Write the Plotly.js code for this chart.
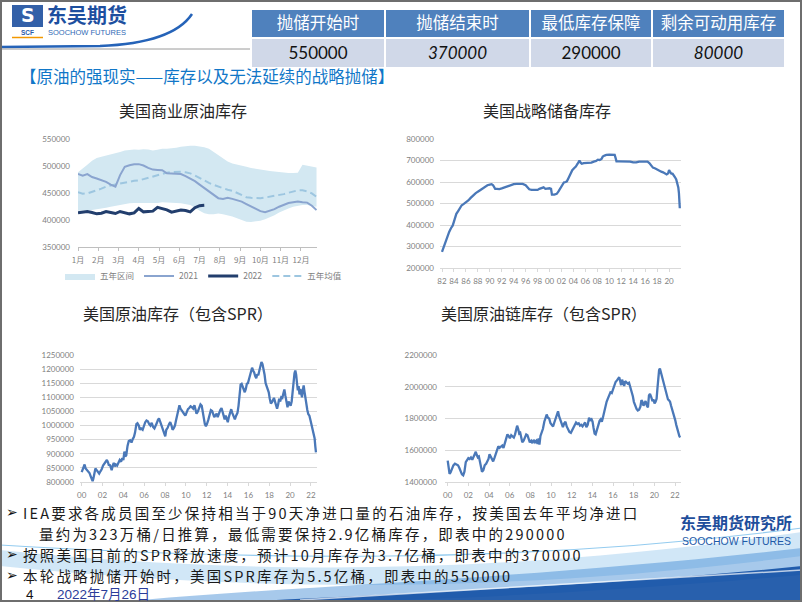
<!DOCTYPE html>
<html><head><meta charset="utf-8">
<script src="https://cdn.plot.ly/plotly-3.0.1.min.js"></script>
<style>html,body{margin:0;padding:0;background:#fff;}#chart{width:802px;height:602px;}</style>
</head><body><div id="chart"></div>
<script>
// ---------------- DATA ----------------
const tableHeaders = ['抛储开始时', '抛储结束时', '最低库存保障', '剩余可动用库存'];
const tableValues = [550000, 370000, 290000, 80000];

const monthLabels = ['1月','2月','3月','4月','5月','6月','7月','8月','9月','10月','11月','12月'];
const weeks = [1,2,3,4,5,6,7,8,9,10,11,12,13,14,15,16,17,18,19,20,21,22,23,24,25,26,27,28,29,30,31,32,33,34,35,36,37,38,39,40,41,42,43,44,45,46,47,48,49,50,51,52];
const band5yLow = [417000,416400,417000,418300,419500,421400,422700,424600,426500,428400,429600,430900,431500,431500,431500,430900,430900,431500,432800,432800,432200,431500,430900,429600,427700,423300,417000,412600,410700,410700,412000,410700,408800,406300,403200,400000,396800,396200,396800,398700,401300,404400,408800,413900,418300,421400,424600,426500,427700,427700,426500,424600];
const band5yHigh = [488300,494600,502200,509700,514800,517300,519200,521100,523600,526100,528600,529900,530500,529900,531200,530500,528600,529900,531800,531800,532400,533700,535600,536800,537500,537500,536200,534900,531800,526100,519200,513500,508500,504700,502200,500300,498400,496500,494600,493300,492100,490800,489500,488300,487700,487000,487000,487700,502200,500900,499600,497100];
const avg5y = [451700,448600,449200,451700,454200,458000,461800,464300,465600,467500,469400,471300,472500,473200,475700,478200,480700,483200,485800,487700,488900,489500,489500,488300,486400,482600,477600,473200,468700,465000,461800,458600,456100,454200,450400,446000,442300,441000,440400,440400,441600,442900,444100,446000,447900,450400,453000,454900,454900,453000,449200,442900];
const stock2021 = [485100,482000,485100,479500,476900,474400,470600,465600,461800,483200,498400,501500,503400,503400,500900,496500,493300,492700,492100,486400,485800,486400,485100,481300,476900,471900,465600,459300,451700,445400,440400,439100,441000,439100,437200,434100,429600,425200,422100,416400,414500,417000,420200,424600,427700,431500,432800,434100,432800,432200,426500,418300];
const weeks2022 = [1,2,3,4,5,6,7,8,9,10,11,12,13,14,15,16,17,18,19,20,21,22,23,24,25,26,27,28];
const stock2022 = [413200,414500,415800,413900,411400,412600,415800,413900,412000,415800,413900,411400,413200,421400,415100,415100,416400,423300,420800,418900,414500,416400,418300,417700,415100,422700,426500,427100];

const sprYears = [1982.00,1982.30,1982.60,1982.90,1983.20,1983.50,1983.80,1984.10,1984.40,1984.70,1985.00,1985.30,1985.60,1986.00,1986.40,1986.80,1987.20,1987.60,1988.00,1988.40,1988.80,1989.20,1989.60,1990.00,1990.30,1990.55,1990.75,1990.90,1991.20,1991.60,1992.00,1992.50,1993.00,1993.50,1994.00,1994.50,1995.00,1995.50,1996.00,1996.30,1996.60,1997.00,1997.50,1998.00,1998.30,1998.70,1999.00,1999.30,1999.70,2000.00,2000.25,2000.40,2000.80,2001.20,2001.50,2001.80,2002.10,2002.40,2002.70,2002.90,2003.20,2003.50,2003.80,2004.10,2004.40,2004.70,2005.00,2005.20,2005.40,2005.70,2006.00,2006.50,2007.00,2007.40,2007.80,2008.10,2008.40,2008.70,2008.90,2009.20,2009.50,2010.00,2010.50,2010.90,2011.05,2011.20,2011.60,2012.00,2012.60,2013.00,2013.50,2014.00,2014.50,2015.00,2015.50,2016.00,2016.40,2016.70,2017.00,2017.30,2017.70,2018.00,2018.30,2018.70,2019.00,2019.30,2019.60,2019.85,2020.00,2020.15,2020.35,2020.60,2020.85,2021.00,2021.20,2021.40,2021.55,2021.65,2021.72,2021.80];
const sprStock = [275000,300000,322000,345000,368000,385000,398000,425000,452000,465000,480000,492000,497000,505000,514000,526000,538000,547000,555000,563000,572000,580000,585000,588000,590000,585000,575000,568000,568000,567000,570000,575000,582000,587000,590000,591000,591000,591000,585000,576000,566000,563000,563000,563000,568000,572000,575000,568000,570000,571000,568000,541000,541000,545000,556000,570000,585000,598000,600000,603000,620000,638000,655000,664000,672000,685000,700000,690000,685000,688000,688000,689000,690000,695000,698000,704000,702000,707000,718000,723000,726000,727000,727000,726000,712000,696000,696000,696000,695000,696000,695000,691000,691000,695000,695000,695000,695000,688000,675000,667000,663000,658000,652000,648000,645000,640000,635000,640000,655000,648000,640000,638000,630000,622000,612000,595000,575000,550000,515000,478000];
const sprTickYears = [1982,1984,1986,1988,1990,1992,1994,1996,1998,2000,2002,2004,2006,2008,2010,2012,2014,2016,2018,2020];
const sprTickLabels = ['82','84','86','88','90','92','94','96','98','00','02','04','06','08','10','12','14','16','18','20'];

const totYears = [2000.00,2000.10,2000.20,2000.28,2000.38,2000.50,2000.62,2000.75,2000.85,2000.95,2001.05,2001.12,2001.22,2001.32,2001.42,2001.55,2001.68,2001.80,2001.92,2002.05,2002.18,2002.30,2002.42,2002.52,2002.62,2002.70,2002.80,2002.88,2002.98,2003.08,2003.18,2003.28,2003.40,2003.52,2003.65,2003.78,2003.90,2004.00,2004.10,2004.18,2004.28,2004.40,2004.52,2004.65,2004.78,2004.90,2005.02,2005.12,2005.25,2005.35,2005.48,2005.58,2005.70,2005.85,2005.98,2006.10,2006.22,2006.35,2006.48,2006.60,2006.72,2006.85,2006.98,2007.08,2007.20,2007.32,2007.42,2007.55,2007.68,2007.80,2007.92,2008.02,2008.12,2008.25,2008.38,2008.50,2008.62,2008.72,2008.85,2008.95,2009.05,2009.15,2009.28,2009.38,2009.48,2009.60,2009.72,2009.85,2009.95,2010.08,2010.20,2010.32,2010.45,2010.58,2010.70,2010.82,2010.92,2011.02,2011.15,2011.28,2011.40,2011.52,2011.62,2011.72,2011.82,2011.92,2012.02,2012.15,2012.28,2012.40,2012.52,2012.62,2012.72,2012.82,2012.95,2013.05,2013.18,2013.30,2013.42,2013.52,2013.62,2013.72,2013.82,2013.92,2014.02,2014.12,2014.25,2014.35,2014.45,2014.58,2014.70,2014.82,2014.95,2015.05,2015.15,2015.25,2015.35,2015.45,2015.55,2015.65,2015.75,2015.85,2015.95,2016.05,2016.15,2016.25,2016.35,2016.45,2016.55,2016.65,2016.75,2016.85,2016.95,2017.05,2017.15,2017.25,2017.35,2017.45,2017.55,2017.65,2017.75,2017.85,2017.95,2018.05,2018.15,2018.25,2018.35,2018.45,2018.55,2018.65,2018.75,2018.85,2018.95,2019.05,2019.15,2019.25,2019.35,2019.45,2019.55,2019.65,2019.75,2019.85,2019.95,2020.05,2020.15,2020.25,2020.32,2020.42,2020.50,2020.58,2020.66,2020.74,2020.82,2020.90,2020.98,2021.06,2021.14,2021.22,2021.30,2021.38,2021.46,2021.55,2021.65,2021.75,2021.85,2021.95,2022.05,2022.15,2022.25,2022.35,2022.42,2022.48];
const totStock = [835000,845000,858000,862000,848000,842000,838000,832000,822000,812000,803000,812000,832000,848000,843000,835000,830000,838000,845000,858000,866000,872000,878000,870000,858000,862000,848000,842000,858000,868000,855000,862000,858000,870000,878000,872000,885000,878000,908000,890000,895000,928000,945000,948000,940000,952000,960000,975000,1005000,1008000,1000000,985000,990000,985000,1002000,1012000,1018000,1015000,1005000,1000000,1010000,995000,990000,1002000,1008000,1020000,1025000,1012000,1000000,985000,975000,962000,985000,992000,1005000,1012000,1000000,985000,992000,1000000,1018000,1035000,1055000,1072000,1060000,1052000,1045000,1040000,1035000,1048000,1058000,1062000,1068000,1065000,1060000,1072000,1055000,1042000,1050000,1065000,1075000,1070000,1048000,1020000,1005000,998000,1005000,1020000,1040000,1055000,1052000,1040000,1030000,1035000,1042000,1030000,1045000,1055000,1062000,1048000,1030000,1022000,1035000,1020000,1012000,1030000,1048000,1058000,1045000,1030000,1022000,1035000,1045000,1070000,1110000,1145000,1148000,1135000,1125000,1118000,1130000,1148000,1150000,1165000,1185000,1200000,1205000,1195000,1188000,1175000,1168000,1182000,1178000,1195000,1215000,1225000,1218000,1200000,1180000,1150000,1138000,1130000,1118000,1095000,1078000,1082000,1090000,1098000,1085000,1068000,1060000,1075000,1095000,1085000,1100000,1098000,1112000,1128000,1105000,1080000,1065000,1085000,1078000,1070000,1085000,1120000,1165000,1185000,1195000,1180000,1150000,1125000,1140000,1110000,1130000,1115000,1100000,1125000,1142000,1120000,1095000,1065000,1055000,1040000,1035000,1020000,1005000,995000,978000,955000,925000,905000];

const chainYears = [2000.00,2000.08,2000.18,2000.28,2000.40,2000.55,2000.70,2000.85,2001.00,2001.12,2001.25,2001.38,2001.50,2001.62,2001.75,2001.88,2002.00,2002.12,2002.25,2002.38,2002.50,2002.62,2002.72,2002.82,2002.92,2003.02,2003.12,2003.22,2003.32,2003.45,2003.58,2003.72,2003.85,2003.95,2004.05,2004.15,2004.28,2004.40,2004.52,2004.65,2004.78,2004.90,2005.02,2005.15,2005.28,2005.40,2005.52,2005.65,2005.78,2005.90,2006.02,2006.15,2006.28,2006.40,2006.52,2006.62,2006.72,2006.82,2006.92,2007.02,2007.12,2007.22,2007.35,2007.48,2007.60,2007.72,2007.85,2007.95,2008.08,2008.20,2008.32,2008.45,2008.58,2008.70,2008.80,2008.88,2008.98,2009.10,2009.22,2009.35,2009.48,2009.58,2009.70,2009.82,2009.95,2010.08,2010.20,2010.32,2010.45,2010.58,2010.68,2010.78,2010.90,2011.02,2011.15,2011.28,2011.40,2011.52,2011.65,2011.78,2011.92,2012.05,2012.18,2012.30,2012.42,2012.55,2012.68,2012.80,2012.92,2013.05,2013.18,2013.30,2013.42,2013.55,2013.68,2013.80,2013.92,2014.02,2014.12,2014.22,2014.32,2014.45,2014.58,2014.70,2014.82,2014.92,2015.02,2015.12,2015.25,2015.38,2015.50,2015.62,2015.75,2015.88,2016.00,2016.12,2016.25,2016.38,2016.50,2016.60,2016.70,2016.78,2016.88,2016.98,2017.08,2017.18,2017.30,2017.42,2017.55,2017.68,2017.80,2017.92,2018.02,2018.15,2018.28,2018.40,2018.52,2018.65,2018.75,2018.85,2018.95,2019.05,2019.15,2019.28,2019.38,2019.48,2019.58,2019.70,2019.82,2019.92,2020.02,2020.12,2020.22,2020.30,2020.38,2020.46,2020.54,2020.62,2020.72,2020.82,2020.92,2021.02,2021.12,2021.22,2021.32,2021.42,2021.52,2021.62,2021.72,2021.82,2021.92,2022.02,2022.12,2022.22,2022.32,2022.42,2022.50];
const chainStock = [1535000,1490000,1452000,1460000,1485000,1505000,1515000,1512000,1505000,1490000,1470000,1448000,1442000,1465000,1525000,1540000,1550000,1545000,1555000,1540000,1560000,1585000,1590000,1570000,1555000,1560000,1530000,1490000,1465000,1475000,1505000,1515000,1530000,1545000,1575000,1560000,1540000,1530000,1550000,1580000,1610000,1625000,1615000,1620000,1630000,1615000,1640000,1680000,1700000,1690000,1675000,1695000,1690000,1680000,1700000,1725000,1755000,1735000,1705000,1710000,1680000,1650000,1660000,1685000,1700000,1695000,1670000,1650000,1660000,1645000,1665000,1650000,1660000,1640000,1675000,1635000,1690000,1710000,1735000,1780000,1815000,1825000,1805000,1800000,1770000,1755000,1750000,1775000,1800000,1835000,1845000,1815000,1790000,1760000,1745000,1770000,1780000,1750000,1730000,1715000,1710000,1725000,1740000,1760000,1775000,1765000,1770000,1755000,1760000,1750000,1765000,1775000,1745000,1760000,1805000,1790000,1795000,1780000,1740000,1705000,1700000,1730000,1770000,1785000,1795000,1780000,1805000,1840000,1880000,1905000,1925000,1950000,1965000,1960000,1985000,2010000,2030000,2040000,2055000,2060000,2035000,2010000,2045000,2020000,2005000,2035000,2030000,2020000,2025000,2000000,1970000,1940000,1905000,1875000,1860000,1850000,1855000,1875000,1915000,1905000,1880000,1895000,1910000,1880000,1870000,1945000,1955000,1935000,1910000,1920000,1895000,1905000,1925000,1990000,2060000,2105000,2115000,2095000,2070000,2040000,2010000,1985000,1965000,1940000,1920000,1915000,1905000,1880000,1860000,1835000,1815000,1790000,1760000,1730000,1705000,1690000,1680000];
const tick2000Years = [2000,2002,2004,2006,2008,2010,2012,2014,2016,2018,2020,2022];
const tick2000Labels = ['00','02','04','06','08','10','12','14','16','18','20','22'];

const bulletLines = [
  'IEA要求各成员国至少保持相当于90天净进口量的石油库存，按美国去年平均净进口',
  '量约为323万桶/日推算，最低需要保持2.9亿桶库存，即表中的290000',
  '按照美国目前的SPR释放速度，预计10月库存为3.7亿桶，即表中的370000',
  '本轮战略抛储开始时，美国SPR库存为5.5亿桶，即表中的550000'
];

// ---------------- LAYOUT HELPERS ----------------
const W = 802, H = 602;
const px = x => x / W;
const py = y => 1 - y / H;
function P(cmds) {
  return cmds.map(c => {
    let s = c[0];
    for (let i = 1; i < c.length; i += 2) s += ' ' + px(c[i]).toFixed(5) + ',' + py(c[i + 1]).toFixed(5);
    return s;
  }).join(' ');
}
const CJK = 'Noto Sans CJK SC, DejaVu Sans, sans-serif';
const NUM = 'Lato, Open Sans, sans-serif';
const lineBlue = '#4a78b8';

// ---------------- TRACES ----------------
const traces = [
  {type:'table', domain:{x:[px(251), px(785)], y:[py(69), py(9)]},
   columnwidth:[134,145,122,133],
   header:{values: tableHeaders, align:'center', height:29,
           fill:{color:'#4f81bd'}, line:{color:'white', width:1.5},
           font:{family:CJK, size:16.5, color:'white'}},
   cells:{values: tableValues.map(v => [String(v)]),
          align:'center', height:30,
          fill:{color:'#d0d8e8'}, line:{color:'white', width:1.5},
          font:{family:NUM, size:17, color:'#111', style:['normal','italic','normal','italic']}}},
  {x:weeks, y:band5yLow, xaxis:'x', yaxis:'y', mode:'lines', line:{width:0, color:'#d3e8f2'}, showlegend:false, hoverinfo:'skip'},
  {x:weeks, y:band5yHigh, xaxis:'x', yaxis:'y', mode:'lines', fill:'tonexty', fillcolor:'#d3e8f2', line:{width:0, color:'#d3e8f2'}, name:'五年区间', legendrank:1},
  {x:weeks, y:avg5y, xaxis:'x', yaxis:'y', mode:'lines', line:{width:2, color:'#9dc6e0', dash:'7px,4px'}, name:'五年均值', legendrank:4},
  {x:weeks, y:stock2021, xaxis:'x', yaxis:'y', mode:'lines', line:{width:2, color:'#8aa4cf'}, name:'2021', legendrank:2},
  {x:weeks2022, y:stock2022, xaxis:'x', yaxis:'y', mode:'lines', line:{width:3, color:'#223e6d'}, name:'2022', legendrank:3},
  {x:sprYears, y:sprStock, xaxis:'x2', yaxis:'y2', mode:'lines', line:{width:2.3, color:lineBlue}, showlegend:false},
  {x:totYears, y:totStock, xaxis:'x3', yaxis:'y3', mode:'lines', line:{width:2.3, color:lineBlue}, showlegend:false},
  {x:chainYears, y:chainStock, xaxis:'x4', yaxis:'y4', mode:'lines', line:{width:2.3, color:lineBlue}, showlegend:false}
];

const tickFontNum = {family:NUM, size:8, color:'#7f7f7f'};
function yax(domain, range, dtick, grid, standoff) {
  return {domain, range, dtick, tick0:range[0], tickformat:'d', showgrid:grid, gridcolor:'#d9d9d9', gridwidth:1,
          showline:false, zeroline:false, ticks:'', tickfont:tickFontNum, ticklabelstandoff:standoff, fixedrange:true};
}
function xax(domain, range, tickvals, ticktext, anchor, font, lc) {
  return {domain, range, tickvals, ticktext, anchor, showgrid:false, zeroline:false, showline:true,
          linecolor:lc, linewidth:1, ticks:'outside', ticklen:3, tickcolor:lc,
          tickfont:font || tickFontNum, ticklabelstandoff:2, fixedrange:true};
}

const annotations = [];
function txt(x, y, text, size, color, opts) {
  annotations.push(Object.assign({xref:'paper', yref:'paper', x:px(x), y:py(y), text, showarrow:false,
    xanchor:'left', yanchor:'middle', borderpad:0, font:{family:CJK, size, color}}, opts || {}));
  return annotations.length - 1;
}
// logo
txt(27.5, 15, '<b>S</b>', 19, 'white', {xanchor:'center', font:{family:'DejaVu Sans', size:19, color:'white'}});
txt(27.5, 32.5, '<b>SCF</b>', 6.5, '#2a5caa', {xanchor:'center', font:{family:'Liberation Sans', size:6.5, color:'#2a5caa'}});
txt(46, 15, '<b>东吴期货</b>', 20, '#1d4f9f');
txt(47, 33, 'SOOCHOW FUTURES', 7.5, '#2f6ab5', {font:{family:'Liberation Sans', size:7.5, color:'#2f6ab5'}});
// heading
txt(19, 76, '【原油的强现实——库存以及无法延续的战略抛储】', 16.5, '#1177c8');
// chart titles
txt(183, 110, '美国商业原油库存', 16, '#262626', {xanchor:'center'});
txt(547, 110, '美国战略储备库存', 16, '#262626', {xanchor:'center'});
txt(178, 313, '美国原油库存（包含SPR）', 16, '#262626', {xanchor:'center'});
txt(544, 313, '美国原油链库存（包含SPR）', 16, '#262626', {xanchor:'center'});
// bullet lines
const bulletY = [512, 533, 554, 575];
const bulletX = [22, 38, 22, 22];
const hasBullet = [true, false, true, true];
const spacedIdx = [];
bulletLines.forEach((t, i) => {
  if (hasBullet[i]) txt(5, bulletY[i], '➢', 14, '#111', {font:{family:'DejaVu Sans', size:14, color:'#111'}});
  spacedIdx.push(txt(bulletX[i], bulletY[i], t, 14.5, '#1a1a1a'));
});
txt(25, 594, '4', 13.5, '#111', {font:{family:'Liberation Sans Narrow, Liberation Sans', size:13.5, color:'#111'}});
txt(56, 594, '2022年7月26日', 13.5, '#2b3c9a', {font:{family:'Liberation Sans Narrow, Liberation Sans, Noto Sans CJK SC', size:13.5, color:'#2b3c9a'}});
// right logo
txt(736, 522, '<b>东吴期货研究所</b>', 16, '#1f4e9c', {xanchor:'center'});
txt(736, 541, 'SOOCHOW FUTURES', 10.5, '#1e5aa8', {xanchor:'center', font:{family:'Liberation Sans', size:10.5, color:'#1e5aa8'}});

const shapes = [
  // bottom wave decoration
  {type:'path', xref:'paper', yref:'paper', layer:'below', line:{width:0},
   fillcolor:'rgba(140,195,234,0.40)',
   path: P([['M',0,550],['C',220,572,470,580,802,532],['L',802,556],['C',470,598,220,588,0,566],['Z']])},
  {type:'path', xref:'paper', yref:'paper', layer:'below', line:{width:0},
   fillcolor:'rgba(60,135,210,0.45)',
   path: P([['M',120,602],['C',300,585,520,580,802,548],['L',802,575],['C',560,596,380,602,300,602],['Z']])},
  {type:'path', xref:'paper', yref:'paper', layer:'below', line:{width:0},
   fillcolor:'rgba(22,82,166,0.92)',
   path: P([['M',240,602],['C',420,592,620,585,802,566],['L',802,602],['Z']])},
  {type:'path', xref:'paper', yref:'paper', layer:'below', line:{width:1.5, color:'rgba(255,255,255,0.7)'},
   path: P([['M',300,600],['C',480,588,650,580,802,570]])},
  {type:'path', xref:'paper', yref:'paper', layer:'below', line:{width:1.2, color:'rgba(120,190,235,0.8)'},
   path: P([['M',0,545],['C',250,560,520,565,802,528]])},
  // header swoosh under logo
  {type:'path', xref:'paper', yref:'paper', line:{width:2.5, color:'#2563b8'},
   path: P([['M',0,47],['L',100,46],['C',150,44,180,32,192,14]])},
  {type:'line', xref:'paper', yref:'paper', x0:px(0), x1:px(250), y0:py(49), y1:py(49), line:{width:1, color:'#9a9a9a'}},
  // logo icon
  {type:'rect', xref:'paper', yref:'paper', x0:px(12), x1:px(43), y0:py(27), y1:py(5), line:{width:0}, fillcolor:'#3360a8'},
  {type:'line', xref:'paper', yref:'paper', x0:px(12), x1:px(43), y0:py(37.5), y1:py(37.5), line:{width:1.5, color:'#f39800'}},
  // slide border
  {type:'rect', xref:'paper', yref:'paper', x0:px(1), x1:px(801), y0:py(601), y1:py(1), line:{width:2, color:'#6e6e6e'}, fillcolor:'rgba(0,0,0,0)'}
];

const layout = {
  width:W, height:H, margin:{l:0, r:0, t:0, b:0},
  paper_bgcolor:'white', plot_bgcolor:'white',
  font:{family:CJK, size:10, color:'#595959'},
  showlegend:true,
  legend:{orientation:'h', x:px(60), xanchor:'left', y:py(276), yanchor:'middle',
          font:{family:CJK, size:8.5, color:'#7f7f7f'}, itemwidth:30, bgcolor:'rgba(0,0,0,0)',
          traceorder:'normal'},
  xaxis: xax([px(78), px(317)], [1, 52.1], monthLabels.map((m, i) => 1 + i * 52 / 12), monthLabels, 'y',
             {family:CJK, size:8, color:'#7f7f7f'}, '#bfbfbf'),
  yaxis: yax([py(247), py(139)], [350000, 550000], 50000, false, 7),
  xaxis2: xax([px(440), px(681)], [1981.665, 2022.0], sprTickYears, sprTickLabels, 'y2', null, '#d9d9d9'),
  yaxis2: Object.assign(yax([py(268), py(139)], [200000, 800000], 100000, true, 5), {anchor:'x2'}),
  xaxis3: xax([px(80), px(317)], [1999.84, 2022.58], tick2000Years, tick2000Labels, 'y3', null, '#d9d9d9'),
  yaxis3: Object.assign(yax([py(482), py(355)], [800000, 1250000], 50000, true, 5), {anchor:'x3'}),
  xaxis4: xax([px(445), px(681)], [1999.74, 2022.58], tick2000Years, tick2000Labels, 'y4', null, '#d9d9d9'),
  yaxis4: Object.assign(yax([py(482), py(355)], [1400000, 2200000], 200000, true, 7), {anchor:'x4'}),
  annotations, shapes
};

const SPACING = 2.2;
Plotly.newPlot('chart', traces, layout, {staticPlot:true, displayModeBar:false}).then(gd => {
  // the slide's body font has a wider advance than Noto Sans CJK: widen with letter spacing,
  // then shift so the text keeps its left edge (annotation text is centre-anchored)
  spacedIdx.forEach(i => {
    const t = gd.querySelector('.annotation[data-index="' + i + '"] text.annotation-text');
    if (!t) return;
    const w0 = t.getBBox().width;
    t.style.letterSpacing = SPACING + 'px';
    let dw = t.getBBox().width - w0;
    if (!(dw > 1)) dw = SPACING * t.textContent.length;
    t.setAttribute('transform', 'translate(' + (dw / 2).toFixed(2) + ',0)');
  });
});
</script></body></html>
